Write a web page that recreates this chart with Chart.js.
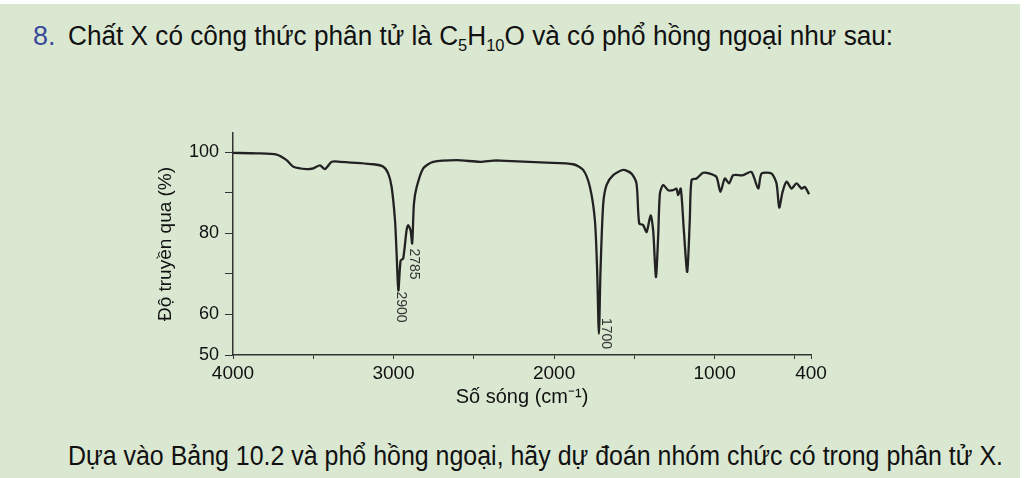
<!DOCTYPE html>
<html>
<head>
<meta charset="utf-8">
<script src="https://cdn.jsdelivr.net/npm/chart.js@4"></script>
<style>
html, body { margin: 0; padding: 0; }
body { width: 1024px; height: 478px; background: #fff; position: relative; overflow: hidden; font-family: "Liberation Sans", Arial, sans-serif; }
#panel { position: absolute; left: 0; top: 4px; width: 1020px; height: 474px; background: #dae8d2; }
.line { position: absolute; font-size: 27px; color: #111; white-space: nowrap; transform-origin: 0 50%; line-height: 31px; }
#num { left: 33px; top: 21px; color: #3a4a9a; }
#title { left: 68px; top: 21px; }
#title sub { font-size: 17px; vertical-align: -6px; line-height: 0; }
#note { left: 68px; top: 441px; }
#wrap { position: absolute; left: 0; top: 0; width: 1024px; height: 478px; }
</style>
</head>
<body>
<div id="panel"></div>
<div id="num" class="line">8.</div>
<div id="title" class="line" data-w="825">Chất X có công thức phân tử là C<sub>5</sub>H<sub>10</sub>O và có phổ hồng ngoại như sau:</div>
<div id="note" class="line" data-w="935">Dựa vào Bảng 10.2 và phổ hồng ngoại, hãy dự đoán nhóm chức có trong phân tử X.</div>
<div id="wrap"><canvas id="irChart"></canvas></div>
<script>
// IR spectrum
const wavenumbers = [4000, 3852, 3728, 3666, 3624, 3541, 3500, 3458, 3427, 3385, 3334, 3126, 3064, 3033, 3012, 2991, 2981, 2970,
  2956, 2940, 2919, 2909, 2894, 2884, 2873, 2856, 2815, 2753, 2607, 2462, 2379, 2337, 2047, 1881, 1819, 1777, 1746, 1732, 1721,
  1711, 1694, 1673, 1632, 1570, 1518, 1487, 1470, 1445, 1424, 1399, 1383, 1366, 1352, 1341, 1321, 1290, 1259, 1238, 1228, 1211,
  1192, 1171, 1155, 1144, 1113, 1072, 1030, 989, 964, 937, 910, 885, 823, 771, 729, 708, 646, 615, 598, 577, 552, 521, 490, 459, 438, 412];
const transmittance = [99.8, 99.7, 99.4, 98, 96.4, 95.8, 96, 96.7, 95.8, 97.6, 97.6, 97, 96.4, 94.7, 91.4, 83.2, 75, 65.9,
  73.3, 73.8, 80.7, 82, 80.7, 77.5, 87.3, 91.4, 96, 97.6, 98, 97.6, 97.9, 97.9, 97.4, 97, 95.6, 91.4, 83.2, 70.9, 55.2,
  70.9, 87.3, 91.9, 94.3, 95.6, 94.7, 92.3, 82.4, 82, 80.3, 84.4, 80.7, 69.2, 79.1, 89.8, 91.9, 90.6, 90.6, 91, 89.4, 91,
  80.7, 70.5, 83.2, 93.1, 93.5, 94.9, 94.7, 93.9, 90.2, 93.5, 92.3, 94.3, 94.3, 95.1, 91, 94.7, 94.7, 92.3, 86.3, 90.2, 92.7, 91, 92.3, 91, 91.4, 89.6];

const xTicks = [4000, 3500, 3000, 2500, 2000, 1500, 1000, 500, 400];
const xLabels = [4000, 3000, 2000, 1000, 400];
const yTicks = [50, 60, 70, 80, 90, 100];
const yLabels = [50, 60, 80, 100];

const peakLabels = ['2900', '2785', '1700'];
const peakWavenumbers = [2970, 2884, 1721];

// squeeze the text lines to the width they have in the book page
document.querySelectorAll('.line[data-w]').forEach(el => {
  const k = Number(el.dataset.w) / el.offsetWidth;
  el.style.transform = `scaleX(${k})`;
});

const points = wavenumbers.map((w, i) => ({ x: w, y: transmittance[i] }));

// rotated peak numbers next to the dips
const peakOffsets = [[2, 1], [2, 5], [7, -16]];
const peakPlugin = {
  id: 'peaks',
  afterDatasetsDraw(chart) {
    const ctx = chart.ctx;
    const xs = chart.scales.x, ys = chart.scales.y;
    ctx.save();
    ctx.font = '14px "Liberation Sans", Arial, sans-serif';
    ctx.fillStyle = '#333';
    ctx.textAlign = 'left';
    ctx.textBaseline = 'middle';
    peakLabels.forEach((lab, i) => {
      const w = peakWavenumbers[i];
      const t = transmittance[wavenumbers.indexOf(w)];
      const px = xs.getPixelForValue(w) + peakOffsets[i][0];
      const py = ys.getPixelForValue(t) + peakOffsets[i][1];
      ctx.save();
      ctx.translate(px, py);
      ctx.rotate(Math.PI / 2);
      ctx.fillText(lab, 0, 0);
      ctx.restore();
    });
    ctx.restore();
  }
};

const fam = '"Liberation Sans", Arial, sans-serif';

const chart = new Chart(document.getElementById('irChart'), {
  type: 'line',
  data: {
    datasets: [{
      data: points,
      borderColor: '#222',
      borderWidth: 2.3,
      pointRadius: 0,
      tension: 0.25,
      fill: false
    }]
  },
  options: {
    responsive: true,
    maintainAspectRatio: false,
    animation: false,
    layout: { padding: { left: 153, right: 213, top: 133, bottom: 63 } },
    plugins: { legend: { display: false }, tooltip: { enabled: false } },
    scales: {
      x: {
        type: 'linear',
        reverse: true,
        min: 400,
        max: 4000,
        afterBuildTicks: s => { s.ticks = xTicks.map(v => ({ value: v })); },
        afterFit: s => { s.height = 60; },
        border: { color: '#333', width: 1.5 },
        grid: { drawOnChartArea: false, drawTicks: true, tickLength: 4, color: '#333' },
        ticks: {
          color: '#111', font: { family: fam, size: 19 }, padding: 3, maxRotation: 0, autoSkip: false,
          callback: v => xLabels.includes(v) ? String(v) : ''
        },
        title: { display: true, text: 'Số sóng (cm⁻¹)', color: '#111', font: { family: fam, size: 20 }, padding: { top: 0, bottom: 6 } }
      },
      y: {
        min: 50,
        max: 104.7,
        afterBuildTicks: s => { s.ticks = yTicks.map(v => ({ value: v })); },
        afterFit: s => { s.width = 80; },
        border: { color: '#333', width: 1.5 },
        grid: { drawOnChartArea: false, drawTicks: true, tickLength: 8, color: '#333' },
        ticks: {
          color: '#111', font: { family: fam, size: 18 }, padding: 6, autoSkip: false,
          callback: v => yLabels.includes(v) ? String(v) : ''
        },
        title: { display: true, text: 'Độ truyền qua (%)', color: '#111', font: { family: fam, size: 19 }, padding: { top: 1, bottom: 0 } }
      }
    }
  },
  plugins: [peakPlugin]
});
</script>
</body>
</html>
